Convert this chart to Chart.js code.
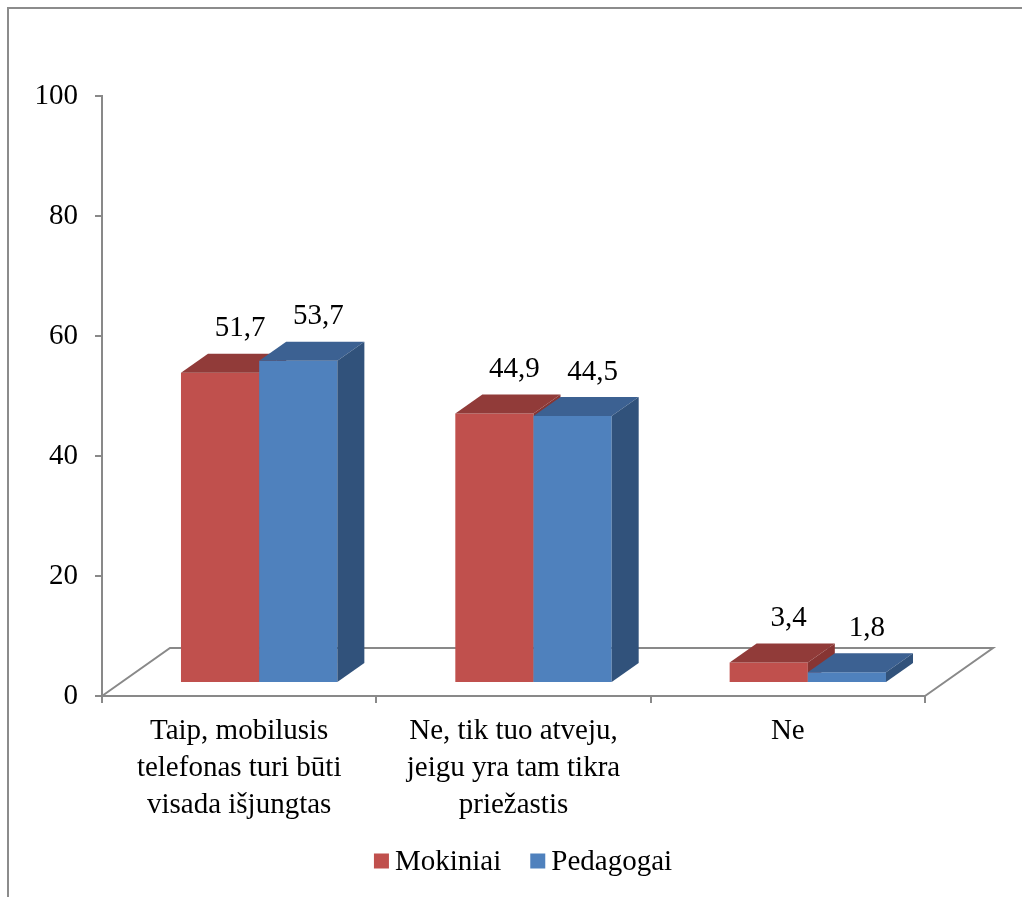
<!DOCTYPE html>
<html>
<head>
<meta charset="utf-8">
<script src="https://cdn.jsdelivr.net/npm/chart.js@4.4.0/dist/chart.umd.min.js"></script>
<style>
  html, body { margin: 0; padding: 0; background: #fff; }
  #wrap { position: relative; width: 1022px; height: 897px; overflow: hidden; }
  #frame { position: absolute; left: 7px; top: 7px; width: 1100px; height: 1000px;
           border-left: 2px solid #8c8c8c; border-top: 2px solid #8c8c8c; }
  canvas { position: absolute; left: 0; top: 0; }
</style>
</head>
<body>
<div id="wrap">
  <div id="frame"></div>
  <canvas id="chart" width="1022" height="897"></canvas>
</div>
<script>
var categories = [
    ['Taip, mobilusis', 'telefonas turi būti', 'visada išjungtas'],
    ['Ne, tik tuo atveju,', 'jeigu yra tam tikra', 'priežastis'],
    ['Ne']
];
var mokiniai = [51.7, 44.9, 3.4];
var pedagogai = [53.7, 44.5, 1.8];
var yTicks = [0, 20, 40, 60, 80, 100];

var serif = "'Liberation Serif', 'Times New Roman', serif";
var fontSize = 29;
var axisGray = '#898989';

// 3D look: bars sit half way into the floor
var SHIFT_X = 20, SHIFT_Y = -13;
var DEPTH_X = 27, DEPTH_Y = -19;
var FLOOR_X = 68, FLOOR_Y = -48;

var floorPlugin = {
    id: 'floor',
    beforeDatasetsDraw: function(chart) {
        var a = chart.chartArea, ctx = chart.ctx;
        ctx.save();
        ctx.strokeStyle = axisGray;
        ctx.lineWidth = 2;
        ctx.beginPath();
        ctx.moveTo(a.left, a.bottom);
        ctx.lineTo(a.left + FLOOR_X, a.bottom + FLOOR_Y);
        ctx.lineTo(a.right + FLOOR_X, a.bottom + FLOOR_Y);
        ctx.lineTo(a.right, a.bottom);
        ctx.stroke();
        ctx.restore();
    }
};

// draw bars ourselves so that each category is painted red then blue
var boxPlugin = {
    id: 'box3d',
    beforeDatasetDraw: function() {
        return false;
    },
    afterDatasetsDraw: function(chart) {
        var ctx = chart.ctx;
        ctx.save();
        ctx.translate(SHIFT_X, SHIFT_Y);
        chart.data.labels.forEach(function(lbl, j) {
            chart.data.datasets.forEach(function(ds, i) {
                var el = chart.getDatasetMeta(i).data[j];
                var p = el.getProps(['x', 'y', 'base', 'width'], true);
                var x0 = p.x - p.width / 2, x1 = p.x + p.width / 2;
                el.draw(ctx);
                // top face
                ctx.fillStyle = ds.topColor;
                ctx.beginPath();
                ctx.moveTo(x0, p.y);
                ctx.lineTo(x0 + DEPTH_X, p.y + DEPTH_Y);
                ctx.lineTo(x1 + DEPTH_X, p.y + DEPTH_Y);
                ctx.lineTo(x1, p.y);
                ctx.closePath();
                ctx.fill();
                // side face
                ctx.fillStyle = ds.sideColor;
                ctx.beginPath();
                ctx.moveTo(x1, p.y);
                ctx.lineTo(x1 + DEPTH_X, p.y + DEPTH_Y);
                ctx.lineTo(x1 + DEPTH_X, p.base + DEPTH_Y);
                ctx.lineTo(x1, p.base);
                ctx.closePath();
                ctx.fill();
            });
        });
        ctx.restore();
    }
};

var labelPlugin = {
    id: 'valueLabels',
    afterDatasetsDraw: function(chart) {
        var ctx = chart.ctx;
        ctx.save();
        ctx.font = fontSize + 'px ' + serif;
        ctx.fillStyle = '#000';
        ctx.textAlign = 'center';
        ctx.textBaseline = 'middle';
        chart.data.datasets.forEach(function(ds, i) {
            chart.getDatasetMeta(i).data.forEach(function(el, j) {
                var p = el.getProps(['x', 'y'], true);
                var txt = ds.data[j].toFixed(1).replace('.', ',');
                ctx.fillText(txt, p.x + SHIFT_X + 20, p.y + SHIFT_Y - 44);
            });
        });
        ctx.restore();
    }
};

var legendPlugin = {
    id: 'bottomLegend',
    afterDraw: function(chart) {
        var ctx = chart.ctx;
        var box = 15, gap = 6, itemGap = 29, cy = 861;
        ctx.save();
        ctx.font = fontSize + 'px ' + serif;
        var items = chart.data.datasets.map(function(ds) {
            return { text: ds.label, color: ds.backgroundColor, w: ctx.measureText(ds.label).width };
        });
        var total = 0;
        items.forEach(function(it, k) {
            total += box + gap + it.w + (k > 0 ? itemGap : 0);
        });
        var x = 523 - total / 2;
        ctx.textBaseline = 'middle';
        ctx.textAlign = 'left';
        items.forEach(function(it) {
            ctx.fillStyle = it.color;
            ctx.fillRect(x, cy - box / 2, box, box);
            ctx.fillStyle = '#000';
            ctx.fillText(it.text, x + box + gap, cy + 1);
            x += box + gap + it.w + itemGap;
        });
        ctx.restore();
    }
};

var ctx = document.getElementById('chart').getContext('2d');
var myChart = new Chart(ctx, {
    type: 'bar',
    data: {
        labels: categories,
        datasets: [{
            label: 'Mokiniai',
            data: mokiniai,
            backgroundColor: '#C0504D',
            topColor: '#913B39',
            sideColor: '#873533'
        }, {
            label: 'Pedagogai',
            data: pedagogai,
            backgroundColor: '#4F81BD',
            topColor: '#3C6192',
            sideColor: '#31527B'
        }]
    },
    options: {
        responsive: false,
        animation: false,
        layout: { padding: { left: 0, top: 96, right: 97, bottom: 59 } },
        datasets: { bar: { categoryPercentage: 0.57, barPercentage: 1.0 } },
        plugins: {
            tooltip: { enabled: false },
            legend: { display: false }
        },
        scales: {
            x: {
                grid: { drawOnChartArea: false, color: axisGray, lineWidth: 2, tickLength: 7, offset: true },
                border: { color: axisGray, width: 2 },
                ticks: {
                    font: { family: serif, size: fontSize, lineHeight: 1.28 },
                    color: '#000',
                    padding: 10,
                    maxRotation: 0,
                    autoSkip: false
                },
                afterFit: function(scale) { scale.height = 142; }
            },
            y: {
                min: 0,
                max: 100,
                afterBuildTicks: function(scale) {
                    scale.ticks = yTicks.map(function(v) { return { value: v }; });
                },
                grid: { drawOnChartArea: false, color: axisGray, lineWidth: 2, tickLength: 7 },
                border: { color: axisGray, width: 2 },
                ticks: {
                    font: { family: serif, size: fontSize },
                    color: '#000',
                    padding: 17
                },
                afterFit: function(scale) { scale.width = 102; }
            }
        }
    },
    plugins: [floorPlugin, boxPlugin, labelPlugin, legendPlugin]
});
</script>
</body>
</html>
